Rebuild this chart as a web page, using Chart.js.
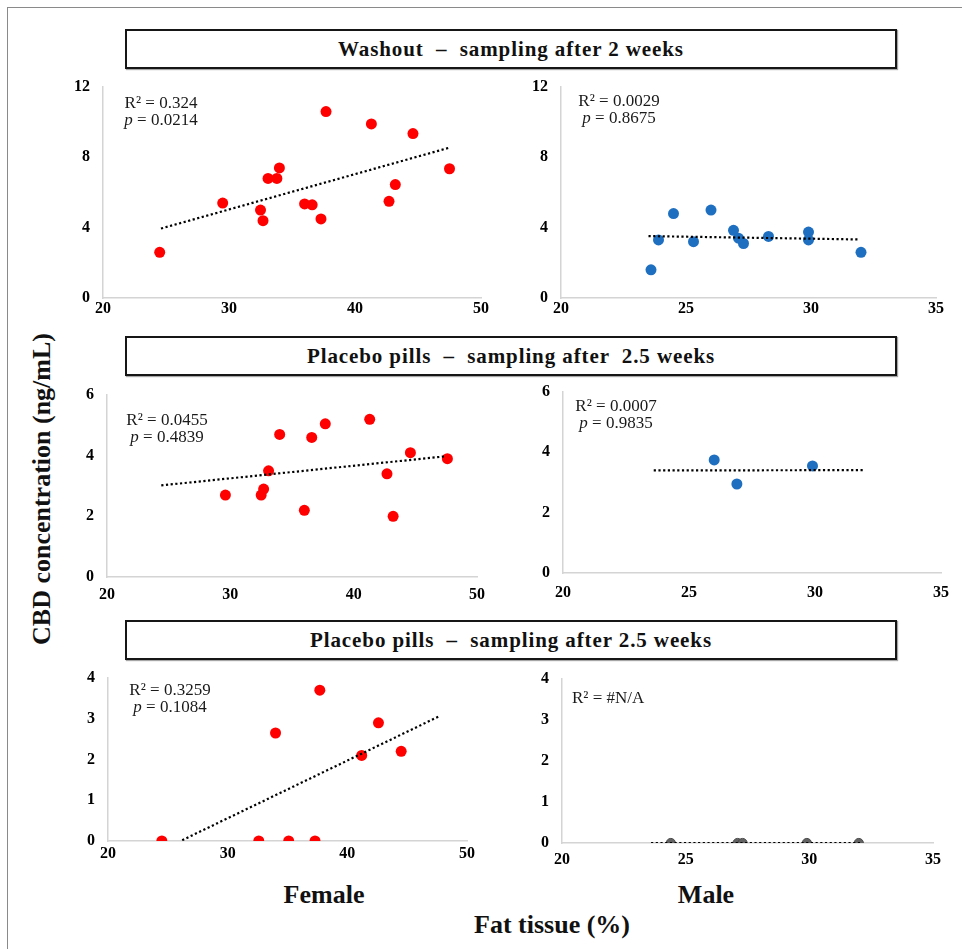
<!DOCTYPE html>
<html>
<head>
<meta charset="utf-8">
<title>CBD concentration vs fat tissue</title>
<script src="https://cdn.jsdelivr.net/npm/chart.js@4.4.1/dist/chart.umd.min.js"></script>
<style>
  html, body { margin: 0; padding: 0; background: #fff; }
  #fig { position: relative; width: 962px; height: 949px; overflow: hidden; font-family: "Liberation Serif", "Times New Roman", serif; }
  .frame { position: absolute; left: 7px; top: 7px; width: 980px; height: 980px; border-top: 1.5px solid #8a8a8a; border-left: 1.5px solid #8a8a8a; }
  .banner { position: absolute; left: 125px; width: 768px; height: 36px; border: 2px solid #161616; box-shadow: 1px 1px 1px rgba(0,0,0,0.35);
            font-weight: bold; font-size: 21px; letter-spacing: 0.9px; line-height: 36px; text-align: center; white-space: pre; color: #111; }
  canvas { position: absolute; }
  .ylab { position: absolute; left: 42px; top: 489px; transform: translate(-50%, -50%) rotate(-90deg); white-space: nowrap;
          font-weight: bold; font-size: 26px; line-height: 26px; color: #111; }
  .lab { position: absolute; transform: translateX(-50%); white-space: nowrap; font-weight: bold; font-size: 26px; line-height: 26px; color: #111; }
</style>
</head>
<body>
<div id="fig">
  <div class="frame"></div>
  <div class="banner" style="top:29px">Washout  –  sampling after 2 weeks</div>
  <div class="banner" style="top:336px">Placebo pills  –  sampling after  2.5 weeks</div>
  <div class="banner" style="top:620px">Placebo pills  –  sampling after 2.5 weeks</div>
  <div class="ylab">CBD concentration (ng/mL)</div>
  <div class="lab" style="left:324px; top:882px">Female</div>
  <div class="lab" style="left:706px; top:882px">Male</div>
  <div class="lab" style="left:552px; top:912px">Fat tissue (%)</div>
  <canvas id="fWash"></canvas>
  <canvas id="mWash"></canvas>
  <canvas id="fPlacebo"></canvas>
  <canvas id="mPlacebo"></canvas>
  <canvas id="fPlacebo2"></canvas>
  <canvas id="mPlacebo2"></canvas>
</div>
<script>
// --- data: fat tissue (%) and CBD concentration (ng/mL) per subject ---
const femaleWashFat = [24.5, 29.5, 32.5, 32.7, 33.1, 33.8, 34.0, 36.0, 36.6, 37.3, 37.7, 41.3, 42.7, 43.2, 44.6, 47.5];
const femaleWashCbd = [2.6, 5.4, 5.0, 4.4, 6.8, 6.8, 7.4, 5.35, 5.3, 4.5, 10.6, 9.9, 5.5, 6.45, 9.35, 7.35];
const femaleWashTrendFat = [24.6, 47.5];
const femaleWashTrendCbd = [3.95, 8.55];

const maleWashFat = [23.6, 23.9, 24.5, 25.3, 26.0, 26.9, 27.1, 27.3, 28.3, 29.9, 29.9, 32.0];
const maleWashCbd = [1.6, 3.3, 4.8, 3.2, 5.0, 3.85, 3.4, 3.1, 3.5, 3.75, 3.3, 2.6];
const maleWashTrendFat = [23.5, 31.9];
const maleWashTrendCbd = [3.52, 3.33];

const femalePlaceboFat = [29.6, 32.5, 32.7, 33.1, 34.0, 36.0, 36.6, 37.7, 41.3, 42.7, 43.2, 44.6, 47.6];
const femalePlaceboCbd = [2.7, 2.7, 2.9, 3.5, 4.7, 2.2, 4.6, 5.05, 5.2, 3.4, 2.0, 4.1, 3.9];
const femalePlaceboTrendFat = [24.4, 47.5];
const femalePlaceboTrendCbd = [3.02, 3.98];

const malePlaceboFat = [26.0, 26.9, 29.9];
const malePlaceboCbd = [3.75, 2.95, 3.55];
const malePlaceboTrendFat = [23.6, 31.9];
const malePlaceboTrendCbd = [3.4, 3.41];

const femalePlacebo2Fat = [24.5, 32.6, 34.0, 35.1, 37.3, 37.7, 41.2, 42.6, 44.5];
const femalePlacebo2Cbd = [0, 0, 2.65, 0, 0, 3.7, 2.1, 2.9, 2.2];
const femalePlacebo2TrendFat = [26.2, 47.6];
const femalePlacebo2TrendCbd = [0.02, 3.05];

const malePlacebo2Fat = [24.4, 27.1, 27.3, 29.9, 32.0];
const malePlacebo2Cbd = [0, 0, 0, 0, 0];
const malePlacebo2TrendFat = [23.6, 32.1];
const malePlacebo2TrendCbd = [0, 0];

// regression statistics printed in each panel
const r2Text = ['0.324', '0.0029', '0.0455', '0.0007', '0.3259', '#N/A'];
const pText = ['0.0214', '0.8675', '0.4839', '0.9835', '0.1084', null];

const RED = '#ff0000';
const BLUE = '#1f6fc0';
const GREY = '#626262';
const AXIS = '#d4d4d4';
const SERIF = '"Liberation Serif", "Times New Roman", serif';

function toPoints(xs, ys) {
  return xs.map((x, i) => ({ x: x, y: ys[i] }));
}

// R² / p text box, placed relative to the chart area
const statLabel = {
  id: 'statLabel',
  afterDatasetsDraw(chart, args, opts) {
    const { ctx, chartArea } = chart;
    const normal = '17px ' + SERIF;
    const italic = 'italic 17px ' + SERIF;
    ctx.save();
    ctx.fillStyle = '#1a1a1a';
    ctx.textBaseline = 'alphabetic';
    ctx.textAlign = 'left';
    const lines = [['', 'R\u00B2 = ' + opts.r2]];
    if (opts.p) lines.push(['p', ' = ' + opts.p]);
    lines.forEach((parts, i) => {
      ctx.font = italic;
      const w1 = ctx.measureText(parts[0]).width;
      ctx.font = normal;
      const w2 = ctx.measureText(parts[1]).width;
      let x = chartArea.left + opts.dx;
      if (opts.align === 'center') x -= (w1 + w2) / 2;
      const y = chartArea.top + opts.dy + i * 17;
      ctx.font = italic;
      ctx.fillText(parts[0], x, y);
      ctx.font = normal;
      ctx.fillText(parts[1], x + w1, y);
    });
    ctx.restore();
  }
};

// plot-area rectangles [left, top, right, bottom] on the page
const panels = [
  { id: 'fWash', plot: [103, 87, 481, 298], xMax: 50, xStep: 10, yMax: 12, yStep: 4, xPad: 1,
    fat: femaleWashFat, cbd: femaleWashCbd, tFat: femaleWashTrendFat, tCbd: femaleWashTrendCbd,
    color: RED, stat: { dx: 58, dy: 21, align: 'center' } },
  { id: 'mWash', plot: [561, 87, 936, 298], xMax: 35, xStep: 5, yMax: 12, yStep: 4, xPad: 1,
    fat: maleWashFat, cbd: maleWashCbd, tFat: maleWashTrendFat, tCbd: maleWashTrendCbd,
    color: BLUE, stat: { dx: 58, dy: 19, align: 'center' } },
  { id: 'fPlacebo', plot: [107, 395, 477, 577], xMax: 50, xStep: 10, yMax: 6, yStep: 2, xPad: 8,
    fat: femalePlaceboFat, cbd: femalePlaceboCbd, tFat: femalePlaceboTrendFat, tCbd: femalePlaceboTrendCbd,
    color: RED, stat: { dx: 60, dy: 30, align: 'center' } },
  { id: 'mPlacebo', plot: [563, 392, 941, 573], xMax: 35, xStep: 5, yMax: 6, yStep: 2, xPad: 10,
    fat: malePlaceboFat, cbd: malePlaceboCbd, tFat: malePlaceboTrendFat, tCbd: malePlaceboTrendCbd,
    color: BLUE, stat: { dx: 53, dy: 19, align: 'center' } },
  { id: 'fPlacebo2', plot: [108, 678, 467, 841], xMax: 50, xStep: 10, yMax: 4, yStep: 1, xPad: 3,
    fat: femalePlacebo2Fat, cbd: femalePlacebo2Cbd, tFat: femalePlacebo2TrendFat, tCbd: femalePlacebo2TrendCbd,
    color: RED, stat: { dx: 62, dy: 17, align: 'center' } },
  { id: 'mPlacebo2', plot: [562, 679, 933, 843], xMax: 35, xStep: 5, yMax: 4, yStep: 1, xPad: 7,
    fat: malePlacebo2Fat, cbd: malePlacebo2Cbd, tFat: malePlacebo2TrendFat, tCbd: malePlacebo2TrendCbd,
    color: GREY, border: '#4a4a4a', radius: 4.6, stat: { dx: 10, dy: 24, align: 'left' } }
];

// margins around each plot area inside its canvas
// (top margin must exceed half a tick label plus the tick padding)
const ML = 60, MT = 30, MR = 28, MB = 35;
const tickFont = { family: SERIF, size: 16, weight: 'bold' };

panels.forEach((p, i) => {
  const [l, t, r, b] = p.plot;
  const canvas = document.getElementById(p.id);
  const w = r - l + ML + MR;
  const h = b - t + MT + MB;
  canvas.width = w;
  canvas.height = h;
  canvas.style.left = (l - ML) + 'px';
  canvas.style.top = (t - MT) + 'px';
  canvas.style.width = w + 'px';
  canvas.style.height = h + 'px';

  new Chart(canvas.getContext('2d'), {
    type: 'scatter',
    data: {
      datasets: [
        {
          // linear trend, drawn over the markers
          data: toPoints(p.tFat, p.tCbd),
          showLine: true,
          borderColor: '#000',
          borderWidth: 2.2,
          borderDash: [2.2, 2.5],
          borderCapStyle: 'butt',
          pointRadius: 0,
          fill: false
        },
        {
          data: toPoints(p.fat, p.cbd),
          backgroundColor: p.color,
          borderColor: p.border || p.color,
          borderWidth: p.border ? 1 : 0,
          pointRadius: p.radius || 5.5,
          pointHoverRadius: p.radius || 5.5
        }
      ]
    },
    options: {
      responsive: false,
      animation: false,
      events: [],
      layout: { padding: { top: MT, right: MR, left: 0, bottom: 0 } },
      plugins: {
        legend: { display: false },
        tooltip: { enabled: false },
        statLabel: Object.assign({ r2: r2Text[i], p: pText[i] }, p.stat)
      },
      scales: {
        x: {
          type: 'linear',
          min: 20,
          max: p.xMax,
          grid: { display: false, drawTicks: false },
          border: { display: true, color: AXIS, width: 1.5 },
          ticks: { stepSize: p.xStep, padding: p.xPad, font: tickFont, color: '#000', maxRotation: 0 },
          afterFit(s) { s.height = MB; }
        },
        y: {
          min: 0,
          max: p.yMax,
          grid: { display: false, drawTicks: false },
          border: { display: true, color: AXIS, width: 1.5 },
          ticks: { stepSize: p.yStep, padding: 13, font: tickFont, color: '#000' },
          afterFit(s) { s.width = ML; }
        }
      }
    },
    plugins: [statLabel]
  });
});
</script>
</body>
</html>
